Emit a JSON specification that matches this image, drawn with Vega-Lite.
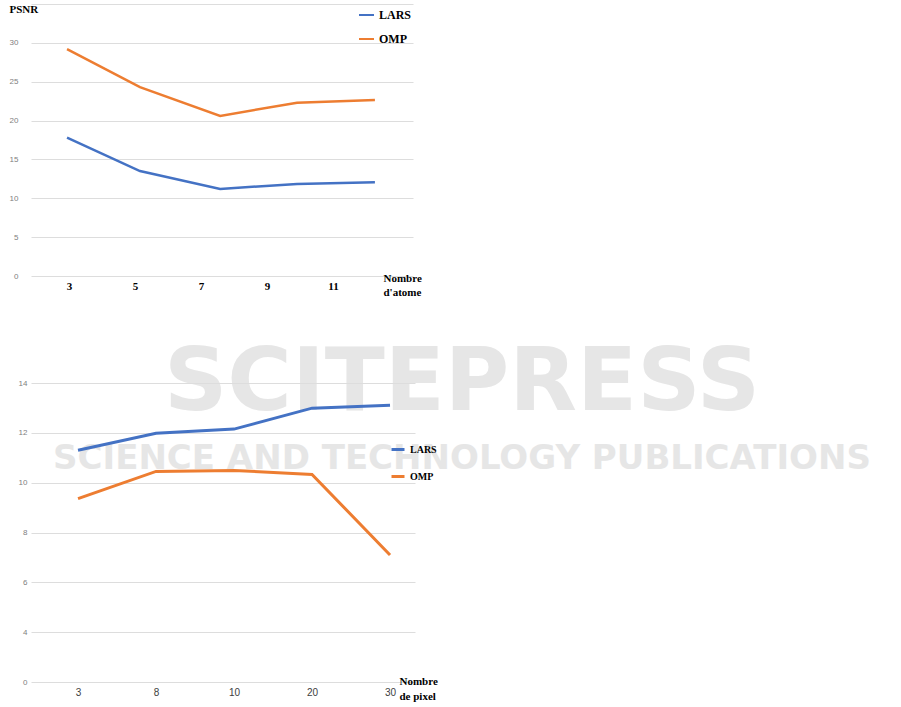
{
  "$schema": "https://vega.github.io/schema/vega-lite/v6.json",
  "background": "white",
  "padding": {"left": 9, "top": 3, "right": 5, "bottom": 5},
  "config": {"view": {"stroke": null}},
  "spacing": 107,
  "bounds": "flush",
  "vconcat": [
    {
      "width": 382,
      "height": 272,
      "title": {
        "text": "SCITEPRESS", "subtitle": "SCIENCE AND TECHNOLOGY PUBLICATIONS",
        "orient": "bottom",
        "font": "DejaVu Sans", "fontSize": 88, "fontWeight": "bold", "color": "#e6e6e6",
        "subtitleFont": "DejaVu Sans", "subtitleFontSize": 34, "subtitleFontWeight": "bold",
        "subtitleColor": "#e6e6e6", "subtitlePadding": 14,
        "anchor": "middle", "frame": "group", "dx": 240, "offset": 43
      },
      "data": {"values": [
        {"x": 2.94, "v": 17.8, "serie": "LARS"},
        {"x": 5.15, "v": 13.5, "serie": "LARS"},
        {"x": 7.58, "v": 11.2, "serie": "LARS"},
        {"x": 9.91, "v": 11.85, "serie": "LARS"},
        {"x": 12.27, "v": 12.05, "serie": "LARS"},
        {"x": 2.94, "v": 29.2, "serie": "OMP"},
        {"x": 5.15, "v": 24.3, "serie": "OMP"},
        {"x": 7.58, "v": 20.6, "serie": "OMP"},
        {"x": 9.91, "v": 22.3, "serie": "OMP"},
        {"x": 12.27, "v": 22.65, "serie": "OMP"}
      ]},
      "mark": {"type": "line", "strokeWidth": 2.5},
      "encoding": {
        "x": {
          "field": "x", "type": "quantitative",
          "scale": {"domain": [1.848, 13.424], "nice": false, "zero": false},
          "axis": {
            "values": [3, 5, 7, 9, 11], "grid": false, "domain": false, "ticks": false,
            "labelFont": "Liberation Serif", "labelFontWeight": "bold", "labelFontSize": 11,
            "labelColor": "black", "labelPadding": 4, "labelFlush": false,
            "title": ["Nombre", "d'atome"], "titleFont": "Liberation Serif", "titleFontWeight": "bold",
            "titleFontSize": 11, "titleColor": "black", "titleAlign": "left", "titleAnchor": "start",
            "titleX": 352, "titleY": -4, "titleBaseline": "top", "titleLineHeight": 14
          }
        },
        "y": {
          "field": "v", "type": "quantitative",
          "scale": {"domain": [0, 35], "nice": false},
          "axis": {
            "values": [0, 5, 10, 15, 20, 25, 30, 35],
            "labelExpr": "datum.value == 35 ? '' : datum.label",
            "grid": true, "gridColor": "#dddddd", "domain": false, "ticks": false,
            "labelFont": "Liberation Sans", "labelFontSize": 8, "labelColor": "#808080", "labelPadding": 13,
            "title": "PSNR", "titleFont": "Liberation Serif", "titleFontWeight": "bold", "titleFontSize": 11,
            "titleColor": "black", "titleAngle": 0, "titleAlign": "left", "titleBaseline": "alphabetic",
            "titleX": -22, "titleY": 8
          }
        },
        "color": {
          "field": "serie", "type": "nominal",
          "scale": {"domain": ["LARS", "OMP"], "range": ["#4472C4", "#ED7D31"]},
          "legend": {
            "orient": "none", "legendX": 327, "legendY": 2.5, "title": null,
            "symbolType": "stroke", "symbolSize": 225, "symbolStrokeWidth": 2,
            "labelFont": "Liberation Serif", "labelFontWeight": "bold", "labelFontSize": 12,
            "labelColor": "black", "labelOffset": 4, "rowPadding": 9, "padding": 0
          }
        }
      }
    },
    {
      "width": 384,
      "height": 299,
      "data": {"values": [
        {"nb": "3", "v": 11.3, "serie": "LARS"},
        {"nb": "8", "v": 11.98, "serie": "LARS"},
        {"nb": "10", "v": 12.15, "serie": "LARS"},
        {"nb": "20", "v": 12.99, "serie": "LARS"},
        {"nb": "30", "v": 13.11, "serie": "LARS"},
        {"nb": "3", "v": 9.36, "serie": "OMP"},
        {"nb": "8", "v": 10.45, "serie": "OMP"},
        {"nb": "10", "v": 10.49, "serie": "OMP"},
        {"nb": "20", "v": 10.33, "serie": "OMP"},
        {"nb": "30", "v": 7.1, "serie": "OMP"}
      ]},
      "mark": {"type": "line", "strokeWidth": 3},
      "encoding": {
        "x": {
          "field": "nb", "type": "ordinal", "sort": ["3", "8", "10", "20", "30"],
          "scale": {"type": "point", "padding": 0.4615, "align": 0.653},
          "axis": {
            "labelAngle": 0, "grid": false, "domain": false, "ticks": false,
            "labelFont": "Liberation Sans", "labelFontSize": 10, "labelColor": "#404040", "labelPadding": 5,
            "title": ["Nombre", "de pixel"], "titleFont": "Liberation Serif", "titleFontWeight": "bold",
            "titleFontSize": 11, "titleColor": "black", "titleAlign": "left", "titleAnchor": "start",
            "titleX": 368, "titleY": -7, "titleBaseline": "top", "titleLineHeight": 15
          }
        },
        "y": {
          "field": "v", "type": "quantitative",
          "scale": {"domain": [2, 14], "nice": false, "zero": false},
          "axis": {
            "values": [2, 4, 6, 8, 10, 12, 14],
            "labelExpr": "datum.value == 2 ? '0' : datum.label",
            "grid": true, "gridColor": "#dddddd", "domain": false, "ticks": false,
            "labelFont": "Liberation Sans", "labelFontSize": 8, "labelColor": "#808080", "labelPadding": 4,
            "title": null
          }
        },
        "color": {
          "field": "serie", "type": "nominal",
          "scale": {"domain": ["LARS", "OMP"], "range": ["#4472C4", "#ED7D31"]},
          "legend": {
            "orient": "none", "legendX": 359, "legendY": 58.5, "title": null,
            "symbolType": "stroke", "symbolSize": 169, "symbolStrokeWidth": 3,
            "labelFont": "Liberation Serif", "labelFontWeight": "bold", "labelFontSize": 10,
            "labelColor": "black", "labelOffset": 4, "rowPadding": 13, "padding": 0
          }
        }
      }
    }
  ],
  "resolve": {"legend": {"color": "independent"}}
}
